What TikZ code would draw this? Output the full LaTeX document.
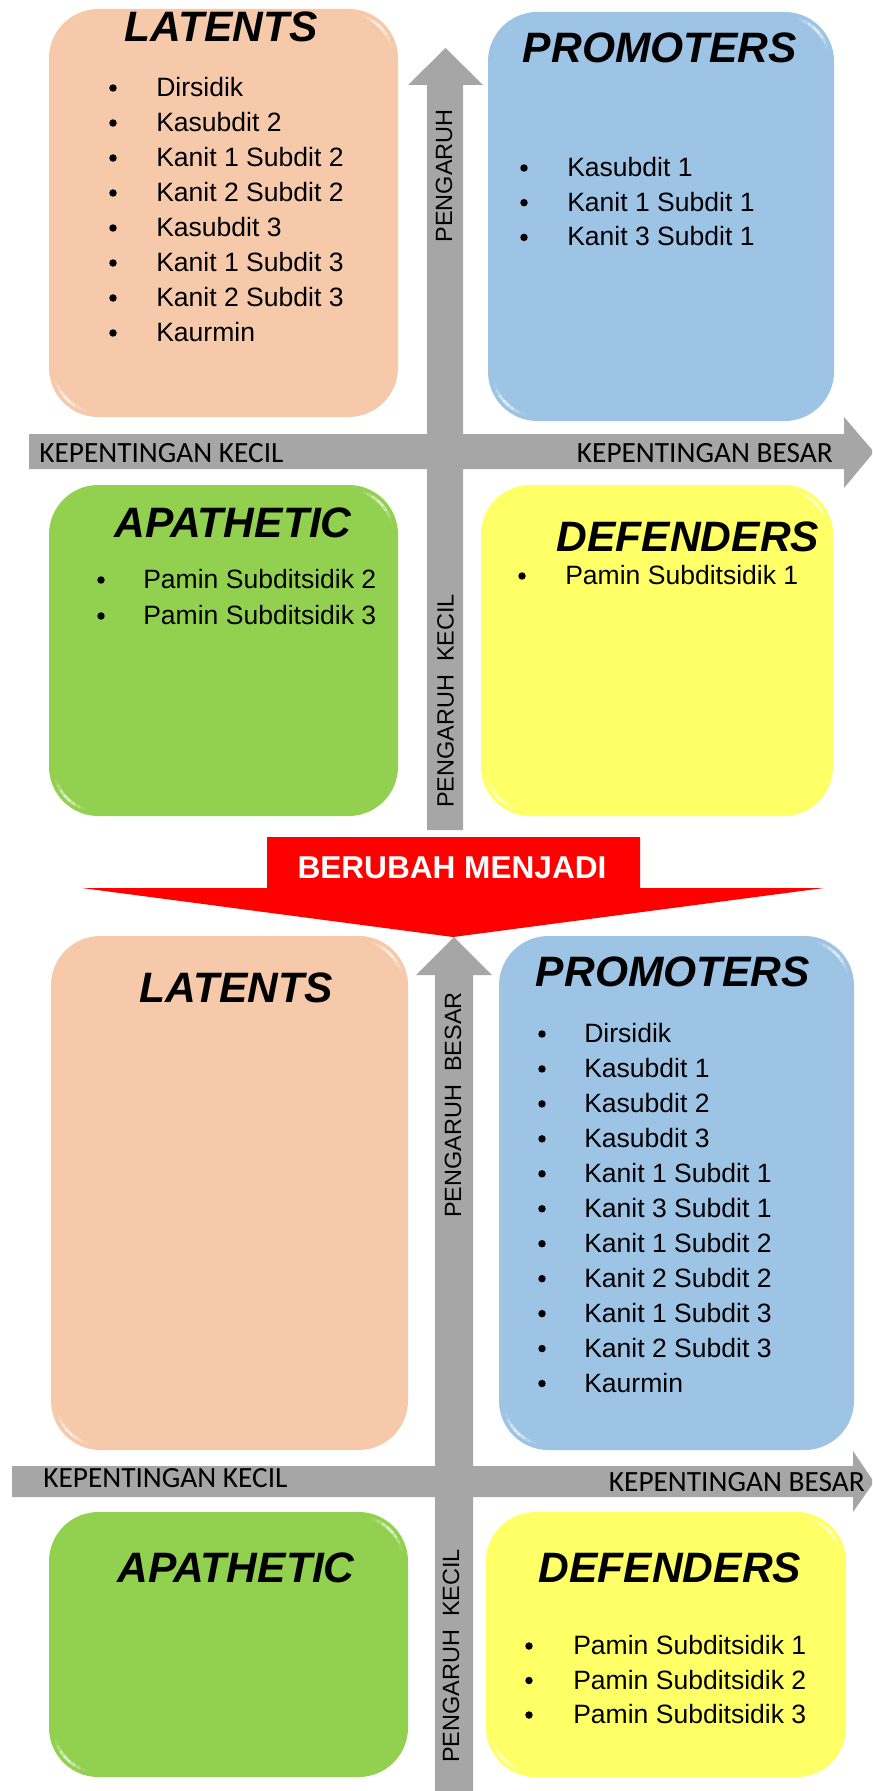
\documentclass[tikz,border=0pt]{standalone}
\usepackage{fontspec}
\setmainfont{Liberation Sans}
\newfontfamily\calib{Carlito}
\definecolor{cLat}{RGB}{245,201,170}
\definecolor{cPro}{RGB}{157,195,229}
\definecolor{cApa}{RGB}{146,208,80}
\definecolor{cDef}{RGB}{255,255,102}
\definecolor{cGray}{RGB}{166,166,166}
\definecolor{cRed}{RGB}{255,0,0}
\tikzset{
  quad/.style={rounded corners=37pt},
  ttl/.style={font=\fontsize{31.9}{36}\selectfont\bfseries\itshape, anchor=base, inner sep=0pt},
  itm/.style={font=\fontsize{19.9}{24}\selectfont, anchor=base west, inner sep=0pt},
  axl/.style={font=\calib\fontsize{22}{26}\selectfont, inner sep=0pt},
  vlab/.style={font=\fontsize{17.6}{21}\selectfont, rotate=90, inner sep=0pt},
  gar/.style={fill=cGray},
  bul/.style={fill=black},
  glint/.style={white, line width=2.2pt, line cap=round},
}
% highlight arc: centre x, centre y, screen angle
\newcommand\glintarc[3]{%
  \foreach \a/\o in {-28/0.10,-20/0.25,-12/0.45,-4/0.6,4/0.45,12/0.25,20/0.10}{%
    \draw[glint, opacity=\o] ({#1+44*cos(#3+\a)},{#2+44*sin(#3+\a)}) -- ({#1+44*cos(#3+\a+8)},{#2+44*sin(#3+\a+8)});
  }%
}
% box: x1 y1 x2 y2 colour
\newcommand\quadbox[5]{%
  \fill[quad, #5] (#1,#2) rectangle (#3,#4);
  \glintarc{#1+49}{#4-49}{135}
  \glintarc{#3-49}{#2+49}{-45}
}
\begin{document}
\begin{tikzpicture}[x=0.75pt,y=-0.75pt]
\useasboundingbox (0,0) rectangle (872,1791);
\begin{scope}
\clip (0,0) rectangle (872,1791);
% ---------- top section arrows
\fill[gar] (427,830) -- (427,85) -- (408,85) -- (445.5,48) -- (483,85) -- (463,85) -- (463,830) -- cycle;
\fill[gar] (29,434) -- (844,434) -- (844,417) -- (874,452) -- (844,488) -- (844,469) -- (29,469) -- cycle;
% ---------- bottom section arrows
\fill[gar] (435,1800) -- (435,975) -- (416,975) -- (454,937) -- (492,975) -- (473,975) -- (473,1800) -- cycle;
\fill[gar] (12,1466) -- (853,1466) -- (853,1451) -- (874,1482) -- (853,1512) -- (853,1497) -- (12,1497) -- cycle;
\end{scope}
% ---------- top boxes
\quadbox{49}{9}{398}{417}{cLat}
\quadbox{488}{12}{834}{421}{cPro}
\quadbox{49}{485}{398}{816}{cApa}
\quadbox{481}{485}{833}{816}{cDef}
% ---------- bottom boxes
\quadbox{51}{936}{408}{1450}{cLat}
\quadbox{499}{936}{854}{1450}{cPro}
\quadbox{49}{1512}{408}{1777}{cApa}
\quadbox{486}{1512}{846}{1777}{cDef}
% ---------- red arrow
\fill[cRed] (267,837) -- (640,837) -- (640,888) -- (824,888) -- (453,937) -- (82,888) -- (267,888) -- cycle;
\node[font=\fontsize{23.7}{28}\selectfont\bfseries, text=white, anchor=base, inner sep=0pt] (chg) at (452,878) {BERUBAH MENJADI};
% ---------- axis labels
\node[axl, anchor=base west] (k1) at (39,462) {KEPENTINGAN KECIL};
\node[axl, anchor=base east] (b1) at (833,462) {KEPENTINGAN BESAR};
\node[axl, anchor=base west] (k2) at (43,1487) {KEPENTINGAN KECIL};
\node[axl, anchor=base east] (b2) at (865,1491) {KEPENTINGAN BESAR};
\node[vlab] (p1) at (444,176) {PENGARUH};
\node[vlab] (p2) at (445.5,701) {PENGARUH\ \ KECIL};
\node[vlab] (p3) at (453,1105) {PENGARUH\ \ BESAR};
\node[vlab] (p4) at (451,1656) {PENGARUH\ \ KECIL};
% ---------- titles
\node[ttl] (t1) at (221,42) {LATENTS};
\node[ttl] (t2) at (660,63) {PROMOTERS};
\node[ttl] (t3) at (233,537) {APATHETIC};
\node[ttl] (t4) at (688,551) {DEFENDERS};
\node[ttl] (t5) at (236,1002) {LATENTS};
\node[ttl] (t6) at (673,986) {PROMOTERS};
\node[ttl] (t7) at (236,1582) {APATHETIC};
\node[ttl] (t8) at (670,1582) {DEFENDERS};
% ---------- lists
\foreach \t [count=\i from 0] in {Dirsidik, Kasubdit 2, Kanit 1 Subdit 2, Kanit 2 Subdit 2, Kasubdit 3, Kanit 1 Subdit 3, Kanit 2 Subdit 3, Kaurmin}{
  \fill[bul] (113,{88+\i*35}) circle (2.8pt);
  \node[itm] (la\i) at (156,{96.5+\i*35}) {\t};
}
\foreach \t [count=\i from 0] in {Kasubdit 1, Kanit 1 Subdit 1, Kanit 3 Subdit 1}{
  \fill[bul] (524,{168+\i*34.7}) circle (2.8pt);
  \node[itm] (pa\i) at (567,{176.5+\i*34.7}) {\t};
}
\foreach \t [count=\i from 0] in {Pamin Subditsidik 2, Pamin Subditsidik 3}{
  \fill[bul] (101,{580+\i*36}) circle (2.8pt);
  \node[itm] (aa\i) at (143,{588.5+\i*36}) {\t};
}
\fill[bul] (522,576) circle (2.8pt);
\node[itm] (da0) at (565,584.5) {Pamin Subditsidik 1};
\foreach \t [count=\i from 0] in {Dirsidik, Kasubdit 1, Kasubdit 2, Kasubdit 3, Kanit 1 Subdit 1, Kanit 3 Subdit 1, Kanit 1 Subdit 2, Kanit 2 Subdit 2, Kanit 1 Subdit 3, Kanit 2 Subdit 3, Kaurmin}{
  \fill[bul] (542,{1034+\i*34.95}) circle (2.8pt);
  \node[itm] (pb\i) at (584,{1042.5+\i*34.95}) {\t};
}
\foreach \t [count=\i from 0] in {Pamin Subditsidik 1, Pamin Subditsidik 2, Pamin Subditsidik 3}{
  \fill[bul] (529,{1646+\i*34.5}) circle (2.8pt);
  \node[itm] (db\i) at (573,{1654.5+\i*34.5}) {\t};
}
\end{tikzpicture}
\end{document}
